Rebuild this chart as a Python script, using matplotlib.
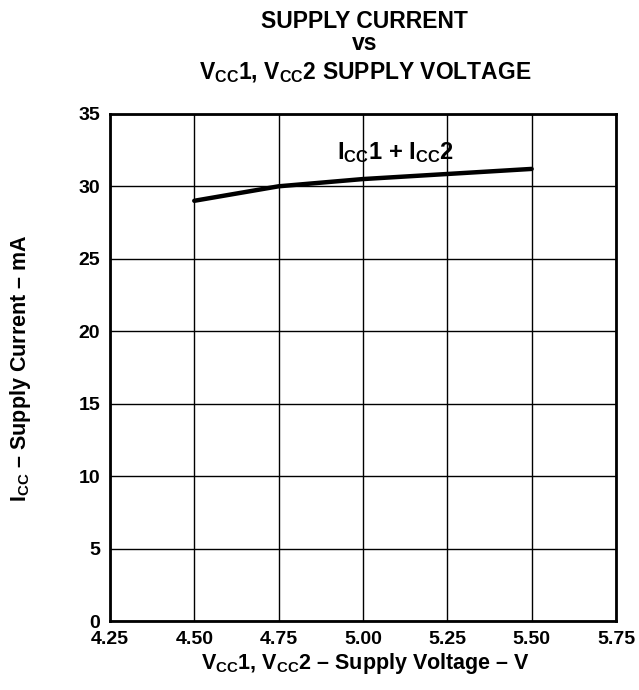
import matplotlib
matplotlib.use('Agg')
import matplotlib.pyplot as plt

# Supply current vs supply voltage
vcc = [4.50, 4.75, 5.00, 5.25, 5.50]
icc = [29.0, 30.0, 30.5, 30.85, 31.2]

x_ticks = [4.25, 4.50, 4.75, 5.00, 5.25, 5.50, 5.75]
x_labels = ['4.25', '4.50', '4.75', '5.00', '5.25', '5.50', '5.75']
y_ticks = [0, 5, 10, 15, 20, 25, 30, 35]

plt.rcParams['font.family'] = 'Liberation Sans'
plt.rcParams['font.weight'] = 'bold'
plt.rcParams['mathtext.fontset'] = 'custom'
plt.rcParams['mathtext.rm'] = 'Liberation Sans:bold'
plt.rcParams['mathtext.it'] = 'Liberation Sans:bold'
plt.rcParams['mathtext.bf'] = 'Liberation Sans:bold'
plt.rcParams['mathtext.default'] = 'rm'

fig, ax = plt.subplots(figsize=(6.39, 6.90), dpi=100)
fig.subplots_adjust(left=0.172, right=0.964, top=0.835, bottom=0.1)

ax.plot(vcc, icc, color='black', linewidth=3.2, solid_capstyle='round')

ax.set_xlim(4.25, 5.75)
ax.set_ylim(0, 35)
ax.set_xticks(x_ticks)
ax.set_xticklabels(x_labels)
ax.set_yticks(y_ticks)
ax.grid(True, color='black', linewidth=1)
ax.tick_params(length=0, labelsize=14)
ax.tick_params(axis='x', pad=7)
ax.tick_params(axis='y', pad=7)
for s in ax.spines.values():
    s.set_linewidth(2)

ax.text(5.095, 32.3, r'I$_{CC}$1 + I$_{CC}$2', fontsize=17,
        ha='center', va='center')

# axis titles
fig.text(0.572, 1 - 664 / 690, r'V$_{CC}$1, V$_{CC}$2 – Supply Voltage – V',
         ha='center', va='center', fontsize=15.5, fontweight='bold')
fig.text(21 / 639, 0.467, r'I$_{CC}$ – Supply Current – mA', rotation=90,
         ha='center', va='center', fontsize=15.5, fontweight='bold')

fig.text(0.571, 1 - 21 / 690, 'SUPPLY CURRENT', ha='center', va='center',
         fontsize=16.5, fontweight='bold')
fig.text(0.571, 1 - 44 / 690, 'vs', ha='center', va='center',
         fontsize=16.5, fontweight='bold')
fig.text(0.571, 1 - 73 / 690, r'V$_{CC}$1, V$_{CC}$2 SUPPLY VOLTAGE',
         ha='center', va='center', fontsize=16.5, fontweight='bold')

fig.savefig('out.png', dpi=100)
